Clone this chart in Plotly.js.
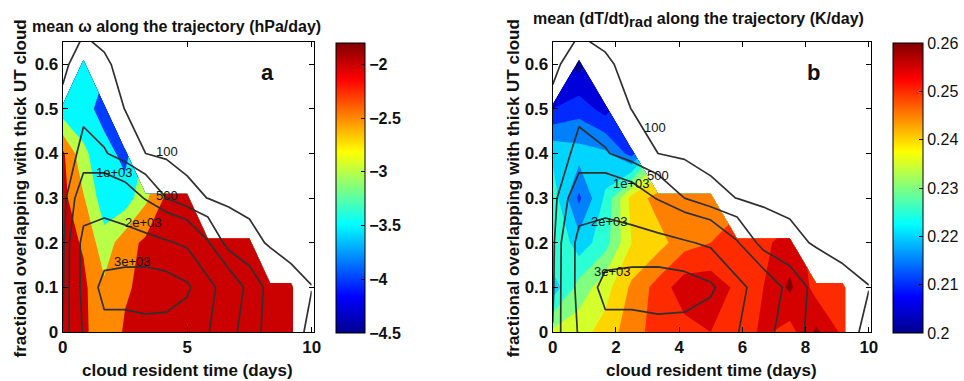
<!DOCTYPE html>
<html><head><meta charset="utf-8">
<script src="https://cdn.plot.ly/plotly-3.0.1.min.js"></script>
<style>html,body{margin:0;padding:0;background:#fff;}#chart{width:964px;height:381px;}</style>
</head><body><div id="chart"></div>
<script>
// ---------------- data ----------------
const residentTime = [0, 0.8333, 1.6667, 2.5, 3.3333, 4.1667, 5, 5.8333, 6.6667, 7.5, 8.3333, 9.1667, 10]; // days
const overlapFrac = [0, 0.1, 0.2, 0.3, 0.4, 0.5, 0.6, 0.7];

// mean omega (hPa/day), NaN = no data
const omegaMean = [
  [-1.85,-1.9,-2.3,-1.95,-1.85,-1.85,-1.85,-1.85,-1.85,-1.85,-1.85,-1.85,NaN],
  [-1.85,-1.9,-2.4,-2.05,-1.9,-1.85,-1.85,-1.85,-1.85,-1.85,-1.85,-1.85,NaN],
  [-1.8,-2.05,-2.8,-2.2,-1.9,-1.85,-1.85,-1.85,-1.85,-1.85,NaN,NaN,NaN],
  [-1.85,-2.45,-3.3,-3.3,-2.6,-1.9,-1.9,NaN,NaN,NaN,NaN,NaN,NaN],
  [-1.9,-2.9,-3.3,-3.65,NaN,NaN,NaN,NaN,NaN,NaN,NaN,NaN,NaN],
  [-3.3,-3.3,-3.7,NaN,NaN,NaN,NaN,NaN,NaN,NaN,NaN,NaN,NaN],
  [NaN,-3.45,NaN,NaN,NaN,NaN,NaN,NaN,NaN,NaN,NaN,NaN,NaN],
  [NaN,NaN,NaN,NaN,NaN,NaN,NaN,NaN,NaN,NaN,NaN,NaN,NaN]
];
// mean radiative heating (K/day)
const dTdtRad = [
  [0.236,0.238,0.242,0.248,0.252,0.253,0.255,0.252,0.256,0.253,0.261,0.254,NaN],
  [0.222,0.232,0.238,0.246,0.252,0.258,0.258,0.254,0.255,0.261,0.253,0.252,NaN],
  [0.231,0.222,0.228,0.240,0.243,0.248,0.250,0.252,0.254,0.257,NaN,NaN,NaN],
  [0.228,0.214,0.226,0.242,0.247,0.248,0.247,NaN,NaN,NaN,NaN,NaN,NaN],
  [0.224,0.222,0.221,0.213,NaN,NaN,NaN,NaN,NaN,NaN,NaN,NaN,NaN],
  [0.210,0.213,0.208,NaN,NaN,NaN,NaN,NaN,NaN,NaN,NaN,NaN,NaN],
  [NaN,0.203,NaN,NaN,NaN,NaN,NaN,NaN,NaN,NaN,NaN,NaN,NaN],
  [NaN,NaN,NaN,NaN,NaN,NaN,NaN,NaN,NaN,NaN,NaN,NaN,NaN]
];
// number of trajectories
const trajCount = [
  [520,2100,2700,2500,2600,2600,2450,2050,1250,650,380,200,40],
  [420,2300,3300,3500,3600,3500,3150,2300,1500,800,350,180,105],
  [380,2300,2500,2400,2300,2100,1850,1050,300,180,70,30,10],
  [300,1500,1600,1400,950,500,180,95,50,30,15,10,5],
  [250,620,540,300,100,40,20,10,5,5,5,5,5],
  [160,420,250,95,30,10,5,5,5,5,5,5,5],
  [50,220,130,40,15,5,5,5,5,5,5,5,5],
  [20,40,20,5,5,5,5,5,5,5,5,5,5]
];
const omegaLevels = [-4.5, -4, -3.5, -3, -2.5, -2];
const omegaRange = [-4.5, -1.8];
const omegaTicks = [-4.5, -4, -3.5, -3, -2.5, -2];
const radLevels = [0.2,0.205,0.21,0.215,0.22,0.225,0.23,0.235,0.24,0.245,0.25,0.255,0.26];
const radRange = [0.2, 0.26];
const radTicks = [0.2, 0.21, 0.22, 0.23, 0.24, 0.25, 0.26];
const countLevelsLow = [100, 500];
const countLevelsHigh = [1000, 2000, 3000];
const labelTexts = ['100', '500', '1e+03', '2e+03', '3e+03'];

// ---------------- helpers ----------------
const JET = [[0,[0,0,143]],[0.125,[0,0,255]],[0.375,[0,255,255]],[0.625,[255,255,0]],[0.875,[255,0,0]],[1,[128,0,0]]];
function jet(t){
  t = Math.max(0, Math.min(1, t));
  for (let i = 1; i < JET.length; i++) {
    if (t <= JET[i][0] + 1e-12) {
      const a = JET[i-1], b = JET[i], f = (t - a[0]) / (b[0] - a[0]);
      return 'rgb(' + a[1].map((v, j) => Math.round(v + (b[1][j] - v) * f)).join(',') + ')';
    }
  }
  return 'rgb(128,0,0)';
}
const jetScale = JET.map(s => [s[0], 'rgb(' + s[1].join(',') + ')']);
function bandScale(levels, rng){
  const nc = levels.length, sc = [[0, jet(0)]];
  levels.forEach((L, i) => sc.push([(i + 1) / nc, jet((L - rng[0]) / (rng[1] - rng[0]))]));
  return sc;
}
const FONT = 'Liberation Sans, Arial, sans-serif';
const W = 964, H = 381;
const px = v => v / W, py = v => (H - v) / H;

function fillTrace(z, levels, rng, xa, ya){
  return {type:'contour', x: residentTime, y: overlapFrac, z: z, xaxis: xa, yaxis: ya,
    autocontour:false, connectgaps:false, showscale:false, hoverinfo:'skip',
    contours:{start: levels[0], end: levels[levels.length-1], size: levels[1]-levels[0], coloring:'fill', showlines:false},
    colorscale: bandScale(levels, rng), line:{width:0, smoothing:0}};
}
function lineTrace(levels, xa, ya){
  return {type:'contour', x: residentTime, y: overlapFrac, z: trajCount, xaxis: xa, yaxis: ya,
    autocontour:false, showscale:false, hoverinfo:'skip',
    contours:{start: levels[0], end: levels[levels.length-1], size: levels.length>1 ? levels[1]-levels[0] : 1, coloring:'none'},
    line:{color:'#303030', width:1.7, smoothing:0}};
}
function cbTrace(rng, ticks, xa, ya, cbx, thick, bold){
  return {type:'scatter', mode:'markers', x:[null], y:[null], xaxis: xa, yaxis: ya, hoverinfo:'skip', showlegend:false,
    marker:{color: rng, cmin: rng[0], cmax: rng[1], colorscale: jetScale, showscale:true, size:1,
      colorbar:{x: px(cbx), xanchor:'left', xref:'paper', y: py(188), yanchor:'middle', len: 290/H, lenmode:'fraction',
        thickness: thick, thicknessmode:'pixels', xpad:0, ypad:0, outlinewidth:1, outlinecolor:'#000',
        ticks:'inside', ticklen:4, tickcolor:'#000', tickvals: ticks,
        tickfont:{family: FONT, size:16, color:'#111', weight: bold ? 'bold' : 'normal'}}}};
}

const data = [
  fillTrace(omegaMean, omegaLevels, omegaRange, 'x', 'y'),
  lineTrace(countLevelsLow, 'x', 'y'),
  lineTrace(countLevelsHigh, 'x', 'y'),
  cbTrace(omegaRange, omegaTicks, 'x', 'y', 337, 29, true),
  fillTrace(dTdtRad, radLevels, radRange, 'x2', 'y2'),
  lineTrace(countLevelsLow, 'x2', 'y2'),
  lineTrace(countLevelsHigh, 'x2', 'y2'),
  cbTrace(radRange, radTicks, 'x2', 'y2', 897, 30, false)
];

const tickFont = {family: FONT, size:17, color:'#111', weight:'bold'};
function xax(dom, ticks, anchor){
  return {domain: dom, range:[0,10.08], tickvals: ticks, ticks:'inside', ticklen:5, tickcolor:'#000',
    showline:true, linecolor:'#000', linewidth:1, mirror:'ticks', zeroline:false, showgrid:false,
    tickfont: tickFont, anchor: anchor, fixedrange:true};
}
function yax(anchor){
  return {domain:[py(332), py(42)], range:[0,0.65], tickvals:[0,0.1,0.2,0.3,0.4,0.5,0.6], ticktext:['0','0.1','0.2','0.3','0.4','0.5','0.6'],
    ticks:'inside', ticklen:5, tickcolor:'#000', showline:true, linecolor:'#000', linewidth:1, mirror:'ticks',
    zeroline:false, showgrid:false, tickfont: tickFont, anchor: anchor, fixedrange:true};
}

const ann = [];
function paperText(text, x, y, size, opts){
  ann.push(Object.assign({text: text, xref:'paper', yref:'paper', x: px(x), y: py(y), showarrow:false,
    xanchor:'center', yanchor:'middle', font:{family: FONT, size: size, color:'#111', weight:'bold'}}, opts || {}));
}
paperText('mean ω along the trajectory (hPa/day)', 30, 26, 16, {xanchor:'left'});
paperText('mean (dT/dt)<sub><span style="font-size:15px">rad</span></sub> along the trajectory (K/day)', 533, 8, 16, {xanchor:'left', yanchor:'top'});
paperText('fractional overlapping with thick UT cloud', 20.5, 188, 17, {textangle:-90});
paperText('fractional overlapping with thick UT cloud', 515.5, 188, 17, {textangle:-90});
paperText('cloud resident time (days)', 188.5, 370, 17);
paperText('cloud resident time (days)', 714.5, 370, 17);
paperText('a', 269, 73, 22);
paperText('b', 817, 73, 22);

const labelPosA = [[4.18,0.404],[4.18,0.305],[2.08,0.357],[3.26,0.245],[2.82,0.157]];
const labelPosB = [[3.23,0.458],[3.33,0.35],[2.5,0.333],[1.81,0.247],[1.9,0.135]];
labelTexts.forEach((t, i) => {
  ann.push({text:t, xref:'x', yref:'y', x: labelPosA[i][0], y: labelPosA[i][1], showarrow:false,
    font:{family: FONT, size:13, color:'#111'}});
  ann.push({text:t, xref:'x2', yref:'y2', x: labelPosB[i][0], y: labelPosB[i][1], showarrow:false,
    font:{family: FONT, size:13, color:'#111'}});
});

const layout = {
  width: W, height: H, margin:{l:0, r:0, t:0, b:0}, paper_bgcolor:'#fff', plot_bgcolor:'#fff',
  showlegend:false, font:{family: FONT},
  xaxis: xax([px(63), px(315)], [0,5,10], 'y'),
  yaxis: yax('x'),
  xaxis2: xax([px(555), px(875)], [0,2,4,6,8,10], 'y2'),
  yaxis2: yax('x2'),
  annotations: ann
};
Plotly.newPlot('chart', data, layout, {staticPlot:true, displayModeBar:false});
</script></body></html>
